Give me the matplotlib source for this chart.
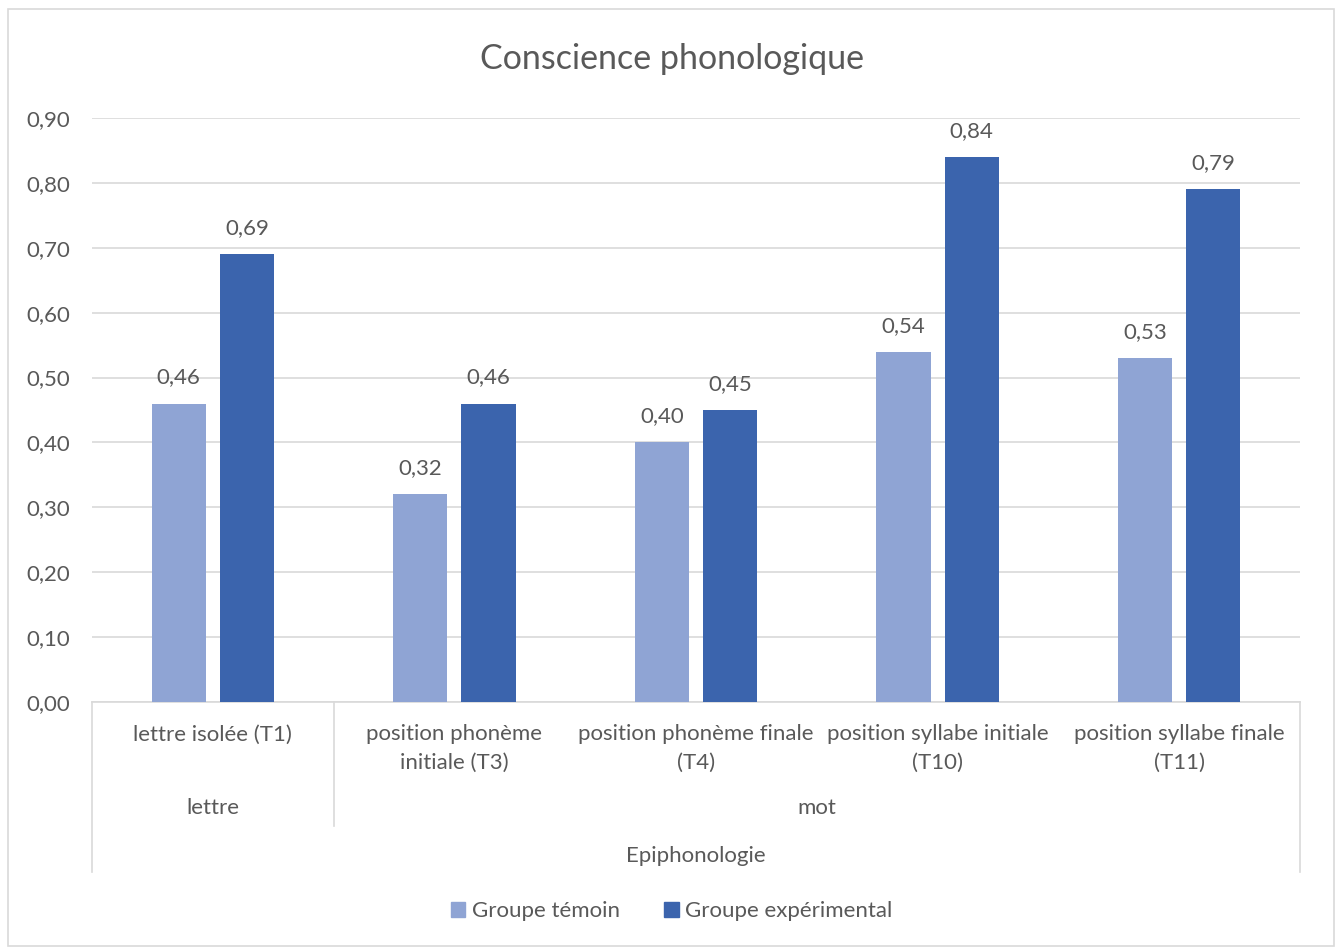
import numpy as np
import matplotlib
matplotlib.use("Agg")
import matplotlib.pyplot as plt
from matplotlib.patches import Rectangle, Patch
from matplotlib.lines import Line2D

plt.rcParams['font.family'] = ['Lato', 'DejaVu Sans']

# data
categories = ["lettre isolée (T1)", "position phonème\ninitiale (T3)",
              "position phonème finale\n(T4)", "position syllabe initiale\n(T10)",
              "position syllabe finale\n(T11)"]
temoin = [0.46, 0.32, 0.40, 0.54, 0.53]
experimental = [0.69, 0.46, 0.45, 0.84, 0.79]
series_names = ["Groupe témoin", "Groupe expérimental"]
groups = ["lettre", "mot"]
group_spans = [(0, 1), (1, 5)]
top_group = "Epiphonologie"
yticks = np.arange(0, 0.91, 0.1)

c_light = "#8FA4D4"
c_dark = "#3B64AD"
txt = "#595959"
grid = "#D9D9D9"
fs = 16

fig = plt.figure(figsize=(13.43, 9.51), dpi=100)
fig.add_artist(Rectangle((8/1343, 5/951), 1326/1343, 937/951, transform=fig.transFigure,
                         fill=False, edgecolor=grid, lw=1.2))
ax = fig.add_axes([92/1343, 1-702/951, 1208/1343, 584/951])

x = np.arange(len(categories))
w = 0.224
off = 0.141
b1 = ax.bar(x - off, temoin, w, color=c_light, zorder=3)
b2 = ax.bar(x + off, experimental, w, color=c_dark, zorder=3)
for bars, vals in [(b1, temoin), (b2, experimental)]:
    for r, v in zip(bars, vals):
        ax.annotate(f"{v:.2f}".replace(".", ","), (r.get_x() + r.get_width()/2, v),
                    xytext=(0, 11.5), textcoords="offset points", ha="center", va="bottom",
                    fontsize=fs, color=txt)

ax.set_xlim(-0.5, len(categories) - 0.5)
ax.set_ylim(0, 0.9)
ax.set_yticks(yticks)
ax.set_yticklabels([f"{t:.2f}".replace(".", ",") for t in yticks], fontsize=fs, color=txt)
ax.tick_params(axis="y", length=0, pad=15.5)
ax.set_xticks([])
ax.grid(axis="y", color=grid, lw=1.2, zorder=0)
for s in ["top", "right", "left"]:
    ax.spines[s].set_visible(False)
ax.spines["bottom"].set_color(grid)
ax.spines["bottom"].set_linewidth(1.2)

h = 584.0
tr = ax.get_xaxis_transform()
for i, c in enumerate(categories):
    ax.text(i, -22.5/h, c, transform=tr, ha="center", va="top", fontsize=fs,
            color=txt, linespacing=1.5)
for g, (a, b) in zip(groups, group_spans):
    ax.text((a + b - 1)/2, -106/h, g, transform=tr, ha="center", va="center",
            fontsize=fs, color=txt)
ax.text((len(categories) - 1)/2, -154/h, top_group, transform=tr, ha="center", va="center",
        fontsize=fs, color=txt)
for xb, yb in [(-0.5, -170/h), (0.5, -124/h), (len(categories) - 0.5, -170/h)]:
    ax.add_line(Line2D([xb, xb], [0, yb], transform=tr, color=grid, lw=1.2, clip_on=False))

fig.text(0.5, 1-59/951, "Conscience phonologique", ha="center", va="center",
         fontsize=24.5, color=txt)

handles = [Patch(color=c_light), Patch(color=c_dark)]
fig.legend(handles, series_names, loc="center", bbox_to_anchor=(0.5, 1-911/951), ncol=2,
           frameon=False, fontsize=fs, labelcolor=txt, handlelength=0.65, handleheight=0.65,
           handletextpad=0.3, columnspacing=2.0)

fig.savefig("out.png", dpi=100)
